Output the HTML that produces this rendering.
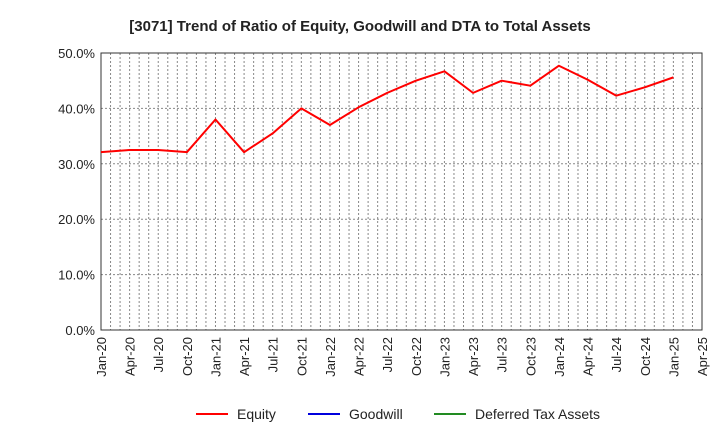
<!DOCTYPE html>
<html><head><meta charset="utf-8"><style>
body{margin:0;background:#fff;font-family:"Liberation Sans",sans-serif}
</style></head><body>
<svg id="c" width="720" height="440" xmlns="http://www.w3.org/2000/svg">
<text x="360" y="31" text-anchor="middle" font-size="15" font-weight="bold" fill="#222">[3071]  Trend of Ratio of Equity, Goodwill and DTA to Total Assets</text>
<g id="grid"></g><g id="axes"></g><g id="series"></g>
<g>
<line x1="196" y1="414" x2="228" y2="414" stroke="#ff0000" stroke-width="2"/>
<text x="237" y="419" font-size="14" fill="#222">Equity</text>
<line x1="308" y1="414" x2="340" y2="414" stroke="#0000dd" stroke-width="2"/>
<text x="349" y="419" font-size="14" fill="#222">Goodwill</text>
<line x1="434" y1="414" x2="466" y2="414" stroke="#228b22" stroke-width="2"/>
<text x="475" y="419" font-size="14" fill="#222">Deferred Tax Assets</text>
</g>
</svg>
<script>
const xLabels=["Jan-20","Apr-20","Jul-20","Oct-20","Jan-21","Apr-21","Jul-21","Oct-21","Jan-22","Apr-22","Jul-22","Oct-22","Jan-23","Apr-23","Jul-23","Oct-23","Jan-24","Apr-24","Jul-24","Oct-24","Jan-25","Apr-25"];
const yTicks=[0,10,20,30,40,50];
const equity=[32.1,32.5,32.5,32.1,38.0,32.1,35.5,40.0,37.0,40.2,42.8,45.0,46.7,42.8,45.0,44.1,47.7,45.2,42.3,43.8,45.6];
const L=101,R=702,T=53,B=330,NS="http://www.w3.org/2000/svg";
const months=(xLabels.length-1)*3;
const xm=m=>L+(R-L)*m/months, xq=i=>xm(i*3), y=v=>B-(B-T)*v/50;
function mk(t,a,p){const e=document.createElementNS(NS,t);for(const k in a)e.setAttribute(k,a[k]);p.appendChild(e);return e;}
const g=document.getElementById('grid'),ax=document.getElementById('axes'),s=document.getElementById('series');
for(let m=1;m<months;m++){const l=mk('line',{x1:xm(m),x2:xm(m),y1:T,y2:B,stroke:'#888','stroke-dasharray':'2,2','stroke-width':1},g);

}
yTicks.forEach(v=>{if(v>0&&v<50){const l=mk('line',{x1:L,x2:R,y1:y(v),y2:y(v),stroke:'#888','stroke-dasharray':'2,2','stroke-width':1},g);

}
const t=mk('text',{x:L-6,y:y(v)+5,'text-anchor':'end','font-size':13,fill:'#222'},ax);t.textContent=v.toFixed(1)+'%';

});
const fr=mk('rect',{x:L,y:T,width:R-L,height:B-T,fill:'none',stroke:'#333','stroke-width':1},ax);


xLabels.forEach((lb,i)=>{const x=xq(i);const t=mk('text',{x:0,y:0,transform:`translate(${x+5},337) rotate(-90)`,'text-anchor':'end','font-size':13,fill:'#222'},ax);t.textContent=lb;

});
const p=mk('polyline',{points:equity.map((v,i)=>xq(i)+','+y(v)).join(' '),fill:'none',stroke:'#ff0000','stroke-width':2,'stroke-linejoin':'round'},s);


</script>
</body></html>
